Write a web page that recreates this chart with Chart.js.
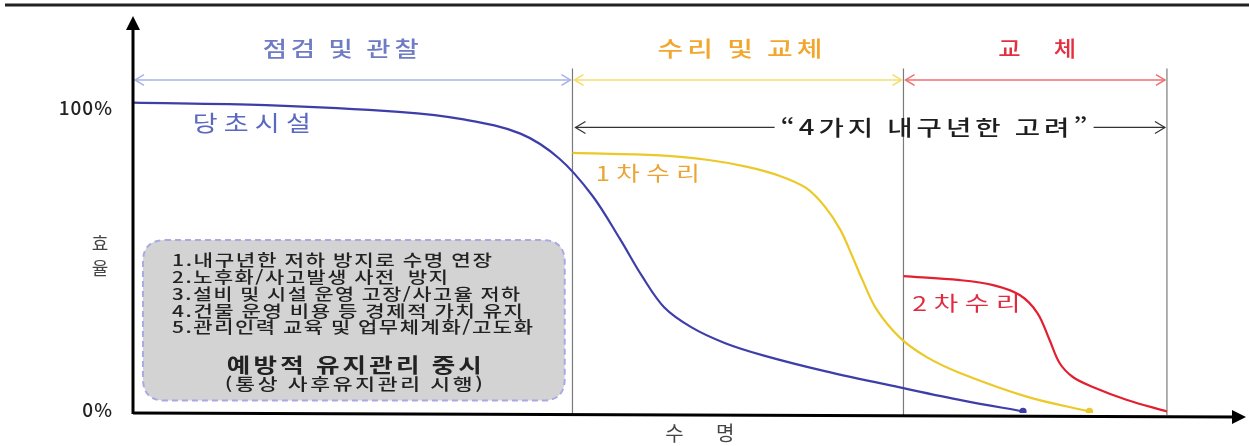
<!DOCTYPE html>
<html lang="ko">
<head>
<meta charset="utf-8">
<script src="https://cdn.jsdelivr.net/npm/chart.js@4.4.1/dist/chart.umd.min.js"></script>
<style>
  html, body { margin: 0; padding: 0; background: #fff; }
  #wrap { width: 1249px; height: 446px; }
</style>
</head>
<body>
<div id="wrap"><canvas id="grafico" width="1249" height="446"></canvas></div>
<script>
// 수명(가로, 0~100) / 효율(세로, %)
const suMyeongDangcho = [0, 12, 24, 30, 35, 38.5, 41.5, 44, 46, 48, 50.5, 53.5, 57, 62.5, 69.6, 75, 80.4];
const hyoyulDangcho   = [100, 99.2, 97, 94.5, 90, 82, 70, 56, 44, 34, 27.5, 22.5, 18.5, 13.5, 8, 4, 0.5];

const suMyeong1cha = [39.7, 47.6, 52, 55.5, 58.5, 60.8, 62.5, 63.9, 65.0, 65.9, 67.2, 69.3, 71.7, 74.7, 80.8, 86.4];
const hyoyul1cha   = [83.8, 83.0, 81.5, 79.3, 76.3, 72.5, 66.5, 59.0, 50.3, 42.8, 33.2, 24.2, 18.0, 12.9, 5.2, 0.5];

const suMyeong2cha = [69.6, 74.7, 77.7, 80.1, 81.7, 82.8, 83.7, 84.9, 86.7, 89.8, 93.4];
const hyoyul2cha   = [44.1, 42.8, 41.2, 38.0, 32.2, 23.5, 16.1, 11.6, 8.4, 4.2, 0.5];

// 구간 (점검 및 관찰 / 수리 및 교체 / 교체)
const gugan = [0, 39.7, 69.6, 93.4];
const guganLabels = ['점검 및 관찰', '수리 및 교체', '교 체'];
const tickLabels = ['0%', '100%'];
const tickValues = [0, 100];
const curveLabels = ['당초시설', '1차수리', '2차수리'];
const boxLines = [
  '1.내구년한 저하 방지로 수명 연장',
  '2.노후화/사고발생 사전  방지',
  '3.설비 및 시설 운영 고장/사고율 저하',
  '4.건물 운영 비용 등 경제적 가치 유지',
  '5.관리인력 교육 및 업무체계화/고도화'
];
const boxTitle = '예방적 유지관리 중시';
const boxSub = '(통상 사후유지관리 시행)';
const durLabel = '“4가지 내구년한 고려”';

const FONT = '"Noto Sans CJK KR", "Noto Sans", sans-serif';
const guganColors = ['#6f7cc4', '#f2a62e', '#e3303f'];
const guganLineColors = ['#a9b0e6', '#f4dd6a', '#ef6f72'];

function toPoints(xs, ys) {
  return xs.map((v, i) => ({ x: v, y: ys[i] }));
}

// 글자를 가로로 늘려서 주어진 폭에 맞춰 그림 (굴림체처럼 넓은 글꼴 흉내)
function wide(ctx, text, left, y, width, spacing) {
  ctx.letterSpacing = spacing + 'px';
  const w0 = ctx.measureText(text).width - spacing;
  const k = width / w0;
  ctx.save();
  ctx.translate(left, y);
  ctx.scale(k, 1);
  ctx.textAlign = 'left';
  ctx.fillText(text, 0, 0);
  ctx.restore();
  ctx.letterSpacing = '0px';
}

function arrowOpen(ctx, x, y, dir, size) {
  ctx.beginPath();
  ctx.moveTo(x - dir * size, y - size * 0.6);
  ctx.lineTo(x, y);
  ctx.lineTo(x - dir * size, y + size * 0.6);
  ctx.stroke();
}

function roundRect(ctx, x, y, w, h, r) {
  ctx.beginPath();
  ctx.moveTo(x + r, y);
  ctx.lineTo(x + w - r, y);
  ctx.quadraticCurveTo(x + w, y, x + w, y + r);
  ctx.lineTo(x + w, y + h - r);
  ctx.quadraticCurveTo(x + w, y + h, x + w - r, y + h);
  ctx.lineTo(x + r, y + h);
  ctx.quadraticCurveTo(x, y + h, x, y + h - r);
  ctx.lineTo(x, y + r);
  ctx.quadraticCurveTo(x, y, x + r, y);
  ctx.closePath();
}

const desenho = {
  id: 'desenho',
  beforeDatasetsDraw(chart) {
    const { ctx, chartArea: area, scales: { x, y } } = chart;
    ctx.save();
    ctx.textBaseline = 'middle';

    // 상단 굵은 선
    ctx.strokeStyle = '#222';
    ctx.lineWidth = 3;
    ctx.beginPath();
    ctx.moveTo(5, 5);
    ctx.lineTo(1249, 5);
    ctx.stroke();

    // 예방적 유지관리 박스
    const bx1 = x.getPixelForValue(0.9), bx2 = x.getPixelForValue(39.0);
    const by1 = y.getPixelForValue(55.7), by2 = y.getPixelForValue(4);
    roundRect(ctx, bx1, by1, bx2 - bx1, by2 - by1, 22);
    ctx.fillStyle = '#d3d3d3';
    ctx.fill();
    ctx.setLineDash([6, 4]);
    ctx.lineWidth = 2;
    ctx.strokeStyle = '#a9a9e6';
    ctx.stroke();
    ctx.setLineDash([]);

    ctx.fillStyle = '#222';
    ctx.font = '500 16px ' + FONT;
    const lineW = [320, 276, 348, 351, 361];
    boxLines.forEach((t, i) => {
      wide(ctx, t, bx1 + 29, by1 + 20 + i * 16.8, lineW[i], 1.2);
    });
    const bc = (bx1 + bx2) / 2;
    ctx.font = 'bold 20px ' + FONT;
    wide(ctx, boxTitle, bc - 127, by1 + 125, 255, 2.5);
    ctx.font = '500 16px ' + FONT;
    wide(ctx, boxSub, bc - 129, by1 + 144, 258, 2);

    // 구간 세로선
    const yTop = y.getPixelForValue(111);
    ctx.strokeStyle = '#7a7a7a';
    ctx.lineWidth = 1.2;
    gugan.slice(1).forEach(g => {
      const px = x.getPixelForValue(g);
      ctx.beginPath();
      ctx.moveTo(px, yTop);
      ctx.lineTo(px, area.bottom + 2);
      ctx.stroke();
    });

    // 구간 화살표와 제목
    const yArrow = y.getPixelForValue(107.3);
    const yTitle = y.getPixelForValue(117.6);
    const titleW = [156, 165, 78];
    for (let i = 0; i < 3; i++) {
      const a = x.getPixelForValue(gugan[i]) + 2;
      const b = x.getPixelForValue(gugan[i + 1]) - 2;
      ctx.strokeStyle = guganLineColors[i];
      ctx.lineWidth = 1.5;
      ctx.beginPath();
      ctx.moveTo(a, yArrow);
      ctx.lineTo(b, yArrow);
      ctx.stroke();
      arrowOpen(ctx, a, yArrow, -1, 9);
      arrowOpen(ctx, b, yArrow, 1, 9);
      ctx.fillStyle = guganColors[i];
      ctx.font = '500 21px ' + FONT;
      let cx = (a + b) / 2;
      if (i === 0) cx -= 14;
      wide(ctx, guganLabels[i], cx - titleW[i] / 2 + 2, yTitle, titleW[i], i === 2 ? 12 : 3);
    }

    // 4가지 내구년한 고려
    const yDur = y.getPixelForValue(92);
    const d1 = x.getPixelForValue(gugan[1]) + 3;
    const d2 = x.getPixelForValue(gugan[3]) - 2;
    const t1 = x.getPixelForValue(58.5), tw = 307;
    ctx.strokeStyle = '#333';
    ctx.lineWidth = 1.2;
    ctx.beginPath();
    ctx.moveTo(d1, yDur);
    ctx.lineTo(t1 - 6, yDur);
    ctx.moveTo(t1 + tw + 6, yDur);
    ctx.lineTo(d2, yDur);
    ctx.stroke();
    arrowOpen(ctx, d1, yDur, -1, 10);
    arrowOpen(ctx, d2, yDur, 1, 10);
    ctx.fillStyle = '#1e1e1e';
    ctx.font = '500 21px ' + FONT;
    wide(ctx, durLabel, t1, yDur, tw, 3);
    ctx.restore();
  },
  afterDatasetsDraw(chart) {
    const { ctx, chartArea: area, scales: { x, y } } = chart;
    ctx.save();
    const x0 = x.getPixelForValue(0);
    const y0 = y.getPixelForValue(0);

    // 축
    ctx.strokeStyle = '#000';
    ctx.fillStyle = '#000';
    ctx.lineWidth = 3;
    ctx.beginPath();
    ctx.moveTo(x0, y0 + 1);
    ctx.lineTo(x0, 26);
    ctx.stroke();
    ctx.beginPath();
    ctx.moveTo(x0 - 7, 30);
    ctx.lineTo(x0, 16);
    ctx.lineTo(x0 + 7, 30);
    ctx.closePath();
    ctx.fill();

    const xEnd = area.right + 6;
    ctx.beginPath();
    ctx.moveTo(x0, y0);
    ctx.lineTo(xEnd - 8, y0 + 4);
    ctx.stroke();
    ctx.beginPath();
    ctx.moveTo(xEnd - 14, y0 - 3);
    ctx.lineTo(xEnd, y0 + 4);
    ctx.lineTo(xEnd - 14, y0 + 11);
    ctx.closePath();
    ctx.fill();

    // 눈금 라벨
    ctx.fillStyle = '#222';
    ctx.font = '500 19px ' + FONT;
    ctx.textAlign = 'right';
    ctx.textBaseline = 'middle';
    ctx.letterSpacing = '1px';
    tickValues.forEach((v, i) => {
      ctx.fillText(tickLabels[i], x0 - 20, y.getPixelForValue(v) + (v === 0 ? -3 : 5));
    });

    // 축 제목
    ctx.textAlign = 'center';
    ctx.font = '18px ' + FONT;
    ctx.fillStyle = '#444';
    ctx.letterSpacing = '0px';
    ctx.fillText('효', x0 - 33, y.getPixelForValue(54.8));
    ctx.fillText('율', x0 - 33, y.getPixelForValue(46.7));
    ctx.font = '20px ' + FONT;
    ctx.letterSpacing = '14px';
    ctx.fillText('수 명', x.getPixelForValue(51.2) + 7, y0 + 20);
    ctx.letterSpacing = '0px';

    // 곡선 라벨
    const cols = ['#5a68c0', '#e9a434', '#e02a40'];
    const pos = [[5.4, 93.4], [41.8, 77.3], [70.4, 35.4]];
    const sizes = [22, 20, 20];
    const widths = [118, 104, 108];
    curveLabels.forEach((t, i) => {
      ctx.fillStyle = cols[i];
      ctx.font = sizes[i] + 'px ' + FONT;
      wide(ctx, t, x.getPixelForValue(pos[i][0]), y.getPixelForValue(pos[i][1]), widths[i], 5);
    });
    ctx.restore();
  }
};

const dotAtEnd = (n) => Array.from({ length: n }, (_, i) => (i === n - 1 ? 2.5 : 0));

const grafico = new Chart(document.getElementById('grafico'), {
  type: 'line',
  data: {
    datasets: [{
      label: curveLabels[0],
      data: toPoints(suMyeongDangcho, hyoyulDangcho),
      borderColor: 'rgb(62, 62, 170)',
      backgroundColor: 'rgb(62, 62, 170)',
      borderWidth: 2.2,
      pointRadius: dotAtEnd(suMyeongDangcho.length)
    }, {
      label: curveLabels[1],
      data: toPoints(suMyeong1cha, hyoyul1cha),
      borderColor: 'rgb(236, 200, 40)',
      backgroundColor: 'rgb(236, 200, 40)',
      borderWidth: 2.2,
      pointRadius: dotAtEnd(suMyeong1cha.length)
    }, {
      label: curveLabels[2],
      data: toPoints(suMyeong2cha, hyoyul2cha),
      borderColor: 'rgb(226, 32, 48)',
      backgroundColor: 'rgb(226, 32, 48)',
      borderWidth: 2.2,
      pointRadius: 0
    }]
  },
  options: {
    responsive: false,
    animation: false,
    layout: { padding: { left: 133, right: 9, top: 25, bottom: 33 } },
    plugins: { legend: { display: false }, tooltip: { enabled: false } },
    elements: { line: { tension: 0.35 }, point: { borderWidth: 0 } },
    scales: {
      x: { type: 'linear', min: 0, max: 100, display: false },
      y: { min: 0, max: 125, display: false }
    }
  },
  plugins: [desenho]
});
</script>
</body>
</html>
